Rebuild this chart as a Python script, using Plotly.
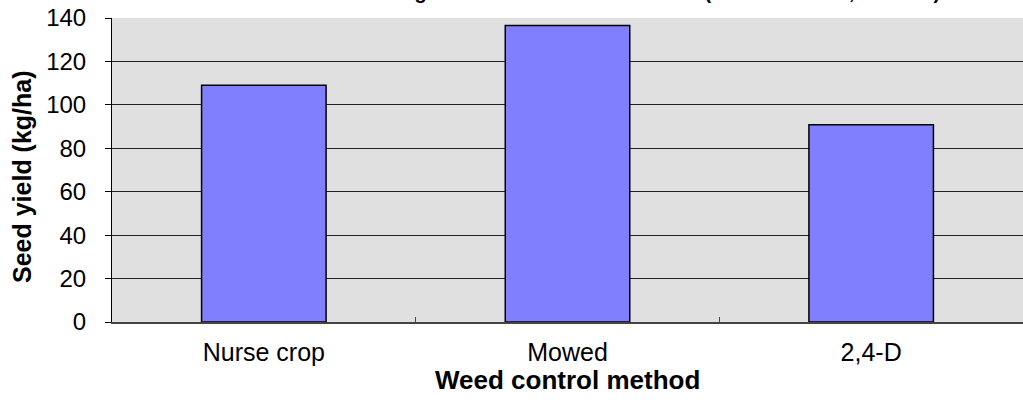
import plotly.graph_objects as go

# Datos del gráfico
methods = ["Nurse crop", "Mowed", "2,4-D"]
seed_yield = [109, 136.5, 90.8]
y_ticks = [0, 20, 40, 60, 80, 100, 120, 140]

title_text = "Red clover seed following three weed control methods (Saskatchewan, 2004-05)"
x_title = "Weed control method"
y_title = "Seed yield (kg/ha)"

fig = go.Figure(
    go.Bar(
        x=methods,
        y=seed_yield,
        marker=dict(color="#8080FF", line=dict(color="black", width=1.5)),
        width=0.41,
    )
)

fig.update_layout(
    width=1023,
    height=400,
    margin=dict(l=112, r=0, t=18, b=78),
    plot_bgcolor="#E0E0E0",
    paper_bgcolor="white",
    font=dict(family="Liberation Sans, Arial, sans-serif", color="black", size=24),
    showlegend=False,
)

# título cortado arriba, como en la imagen original
fig.add_annotation(
    text="<b>" + title_text + "</b>",
    xref="paper",
    yref="paper",
    x=(178 - 112) / 911,
    y=1.043,
    xanchor="left",
    yanchor="bottom",
    showarrow=False,
    font=dict(size=20, color="black"),
)

# títulos de ejes como anotaciones para colocarlos a mano
fig.add_annotation(
    text="<b>" + x_title + "</b>",
    xref="paper",
    yref="paper",
    x=0.5,
    y=-58 / 304,
    xanchor="center",
    yanchor="middle",
    showarrow=False,
    font=dict(size=26),
)
fig.add_annotation(
    text="<b>" + y_title + "</b>",
    xref="paper",
    yref="paper",
    x=-90 / 911,
    y=0.5 - 7 / 304,
    textangle=-90,
    xanchor="center",
    yanchor="middle",
    showarrow=False,
    font=dict(size=25),
)

fig.update_xaxes(
    automargin=False,
    showline=True,
    linecolor="#444",
    linewidth=1.5,
    ticks="inside",
    tickson="boundaries",
    ticklen=5,
    tickcolor="#444",
    tickfont=dict(size=25),
    ticklabelstandoff=7,
    showgrid=False,
)

fig.update_yaxes(
    automargin=False,
    range=[0, 140],
    tickvals=y_ticks,
    showline=True,
    linecolor="black",
    linewidth=1,
    ticks="outside",
    ticklen=6,
    tickcolor="black",
    tickfont=dict(size=24),
    ticklabelstandoff=14,
    showgrid=True,
    gridcolor="#222",
    gridwidth=1,
    zeroline=False,
)

fig.write_html(
    "out.html",
    config={"displayModeBar": False},
    post_script="document.body.style.margin = '0';",
)
